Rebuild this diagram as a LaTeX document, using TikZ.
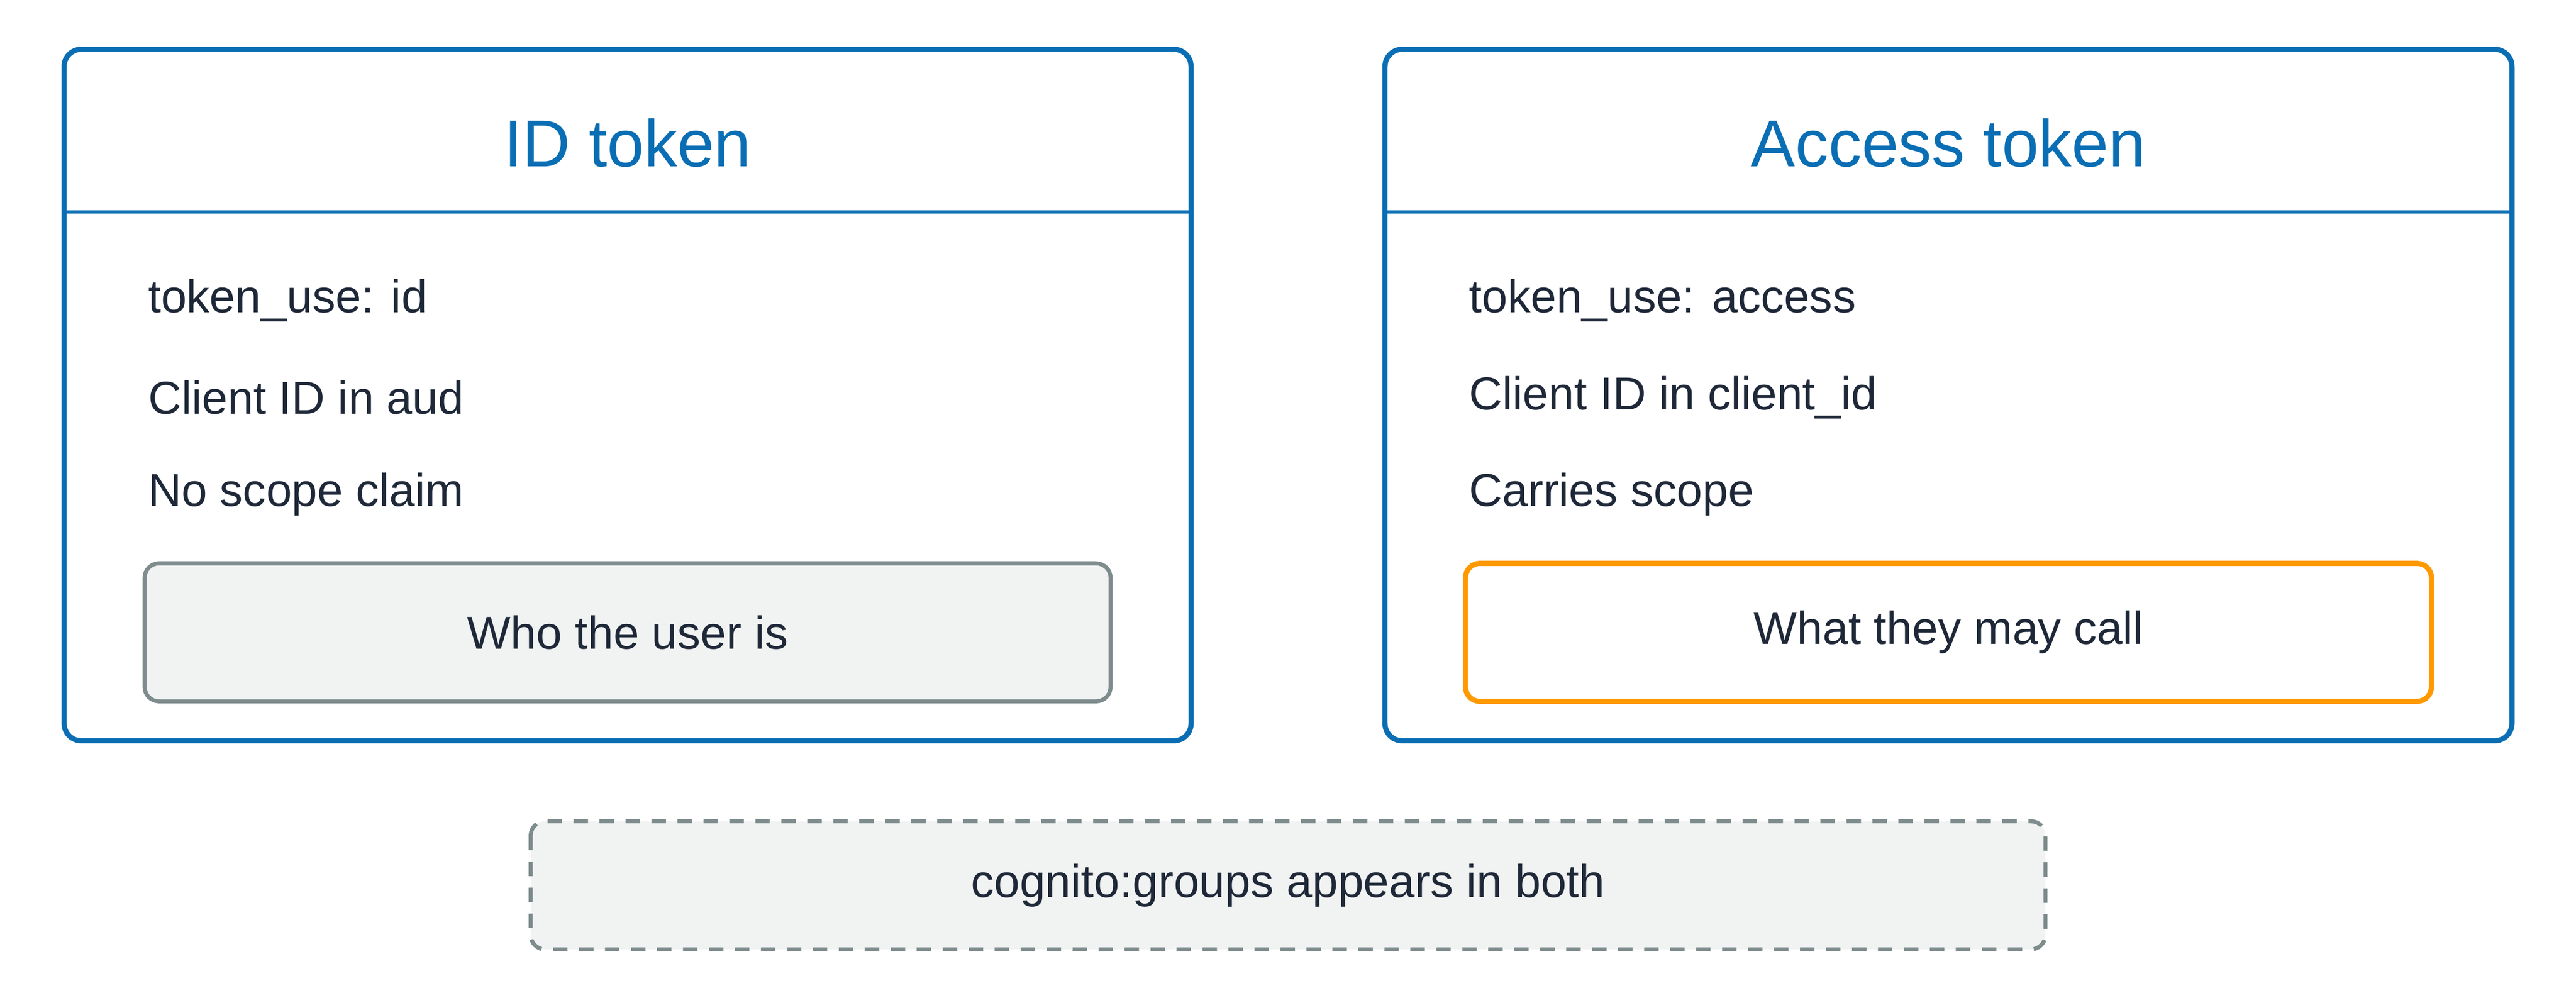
\documentclass[tikz,border=0pt]{standalone}
\usepackage{fontspec}
\setmainfont{Liberation Sans}
\definecolor{blu}{HTML}{0A6EB4}
\definecolor{txt}{HTML}{1E2838}
\definecolor{gfill}{HTML}{F1F3F2}
\definecolor{gline}{HTML}{7F8C8D}
\definecolor{org}{HTML}{FF9900}
\begin{document}
\begin{tikzpicture}[x=0.02cm,y=-0.02cm,
  card/.style={draw=blu,line width=1.8pt,rounded corners=6pt},
  title/.style={text=blu,font=\fontsize{23}{28}\selectfont,anchor=center},
  item/.style={text=txt,font=\fontsize{16}{19}\selectfont,anchor=west},
  note/.style={rounded corners=5pt,line width=1.4pt},
  lbl/.style={text=txt,font=\fontsize{16}{19}\selectfont,anchor=center}]
\useasboundingbox (0,0) rectangle (1568,607.6);
% left card
\draw[card] (39,30) rectangle (725,451);
\coordinate (ld1) at (39,129); \coordinate (ld2) at (725,129);
\draw[blu,line width=1.2pt] (ld1) -- (ld2);
\node[title] (lt) at (382,87) {ID token};
\node[item] (l1) at (84,183) {token\_use: id};
\node[item] (l2) at (84,242) {Client ID in aud};
\node[item] (l3) at (84,301) {No scope claim};
\draw[note,draw=gline,fill=gfill] (88,343) rectangle (676,427);
\node[lbl] (lw) at (382,385) {Who the user is};
% right card
\draw[card] (843,30) rectangle (1529,451);
\coordinate (rd1) at (843,129); \coordinate (rd2) at (1529,129);
\draw[blu,line width=1.2pt] (rd1) -- (rd2);
\node[title] (rt) at (1186,87) {Access token};
\node[item] (r1) at (888,183) {token\_use: access};
\node[item] (r2) at (888,242) {Client ID in client\_id};
\node[item] (r3) at (888,301) {Carries scope};
\draw[note,draw=org,line width=1.8pt] (892,343) rectangle (1480,427);
\node[lbl] (rw) at (1186,385) {What they may call};
% bottom
\draw[note,draw=gline,fill=gfill,dashed,dash pattern=on 5pt off 4pt] (323,500) rectangle (1245,578);
\node[lbl] (b) at (784,539) {cognito:groups appears in both};
\end{tikzpicture}
\end{document}
